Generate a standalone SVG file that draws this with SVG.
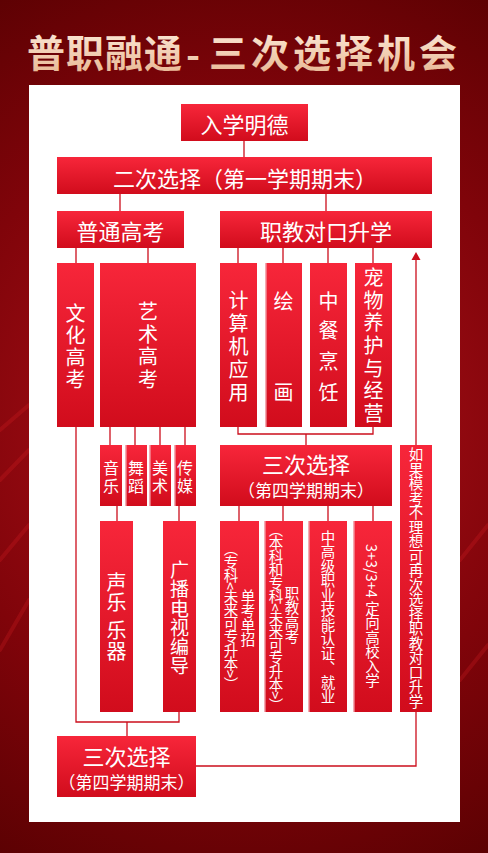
<svg xmlns="http://www.w3.org/2000/svg" width="488" height="853" viewBox="0 0 488 853">
<defs>
<radialGradient id="bg" cx="244" cy="420" r="560" gradientUnits="userSpaceOnUse">
<stop offset="0" stop-color="#b5131b"/>
<stop offset="0.55" stop-color="#80040a"/>
<stop offset="1" stop-color="#500000"/>
</radialGradient>
<linearGradient id="box" x1="0" y1="0" x2="0" y2="1">
<stop offset="0" stop-color="#f7263a"/>
<stop offset="1" stop-color="#d10c1c"/>
</linearGradient>
<linearGradient id="gold" x1="0" y1="0" x2="0" y2="1">
<stop offset="0" stop-color="#fff1e2"/>
<stop offset="1" stop-color="#e7b48f"/>
</linearGradient>
<style>
.b{fill:url(#box)}
.edge{stroke:#f5b3b9;stroke-width:1.5}
.t{font-family:"Noto Sans CJK SC","Noto Sans",sans-serif;fill:#fff;text-anchor:middle;dominant-baseline:central}
.s22{font-size:22px}
.s17{font-size:17px}
.col{font-family:"Noto Sans CJK SC","Noto Sans",sans-serif;fill:#fff;writing-mode:vertical-rl}
.c20{font-size:20px}
.c19{font-size:19px}
.c16{font-size:16px}
.vt{font-family:"Noto Sans CJK SC","Noto Sans",sans-serif;fill:#fff;text-anchor:middle;writing-mode:vertical-rl;font-size:14.5px}
.ln{fill:none;stroke:#cc0f1d;stroke-width:1.3}
.title{font-family:"Noto Sans CJK SC",sans-serif;fill:url(#gold);font-weight:bold;font-size:38px}
.streak{stroke:#e8262a;stroke-opacity:0.22;stroke-width:4;stroke-linecap:round}
</style>
</defs>
<rect x="0" y="0" width="488" height="853" fill="url(#bg)"/>
<g id="streaks">
<line class="streak" x1="0" y1="430" x2="29" y2="405"/>
<line class="streak" x1="0" y1="480" x2="29" y2="450"/>
<line class="streak" x1="0" y1="560" x2="29" y2="525"/>
<line class="streak" x1="0" y1="650" x2="29" y2="600"/>
<line class="streak" x1="460" y1="560" x2="488" y2="525"/>
<line class="streak" x1="460" y1="680" x2="488" y2="645"/>
</g>
<g id="title">
<text class="title" x="27" y="50" dominant-baseline="central" letter-spacing="1">普职融通</text>
<text class="title" x="186" y="69">-</text>
<text class="title" x="209" y="50" dominant-baseline="central" letter-spacing="4">三次选择机会</text>
</g>
<rect id="panel" x="29" y="85" width="431" height="737" fill="#fff"/>
<g id="connectors">
<path class="ln" d="M244,141V157"/>
<path class="ln" d="M120,194V211M326,194V211"/>
<path class="ln" d="M76,248V263M148,248V263"/>
<path class="ln" d="M238,248V263M283,248V263M328,248V263M373,248V263"/>
<path class="ln" d="M76,427V722H179V712M127,722V736"/>
<path class="ln" d="M110,427V445M135,427V445M160,427V445M185,427V445"/>
<path class="ln" d="M117,506V521M179,506V521"/>
<path class="ln" d="M238,427V434H373V427M306,434V445"/>
<path class="ln" d="M239,506V521M283,506V521M328,506V521M373,506V521"/>
<path class="ln" d="M196,766H416V712M416,445V258"/>
<polygon points="416,252 411.5,260 420.5,260" fill="#cc0f1d"/>
</g>
<g id="n-ruxue"><rect class="b" x="181" y="104" width="127" height="37"/><text class="t s22" x="244.5" y="123">入学明德</text></g>
<g id="n-erci"><rect class="b" x="57" y="157" width="375" height="37"/><text class="t s22" x="245" y="177">二次选择（第一学期期末）</text></g>
<g id="n-putong"><rect class="b" x="57" y="211" width="127" height="37"/><text class="t s22" x="120.5" y="230">普通高考</text></g>
<g id="n-zhijiao"><rect class="b" x="220" y="211" width="212" height="37"/><text class="t s22" x="326" y="230">职教对口升学</text></g>
<g id="n-wenhua"><rect class="b" x="57" y="263" width="37" height="164"/><text class="col c20" x="75.5"><tspan x="75.5" y="303">文</tspan><tspan x="75.5" y="325">化</tspan><tspan x="75.5" y="347">高</tspan><tspan x="75.5" y="369">考</tspan></text></g>
<g id="n-yishu"><rect class="b" x="100" y="263" width="96" height="164"/><text class="col c20" x="148"><tspan x="148" y="301">艺</tspan><tspan x="148" y="324">术</tspan><tspan x="148" y="346">高</tspan><tspan x="148" y="369">考</tspan></text></g>
<g id="n-jisuanji"><rect class="b" x="220" y="263" width="37" height="164"/><text class="col c20" x="238.5"><tspan x="238.5" y="290">计</tspan><tspan x="238.5" y="313">算</tspan><tspan x="238.5" y="336">机</tspan><tspan x="238.5" y="359">应</tspan><tspan x="238.5" y="382">用</tspan></text></g>
<g id="n-huihua"><rect class="b" x="265" y="263" width="37" height="164"/><line class="edge" x1="265.8" y1="263" x2="265.8" y2="427"/><text class="col c20" x="283.5"><tspan x="283.5" y="291">绘</tspan><tspan x="283.5" y="382">画</tspan></text></g>
<g id="n-zhongcan"><rect class="b" x="310" y="263" width="37" height="164"/><text class="col c20" x="328.5"><tspan x="328.5" y="291">中</tspan><tspan x="328.5" y="320">餐</tspan><tspan x="328.5" y="351">烹</tspan><tspan x="328.5" y="382">饪</tspan></text></g>
<g id="n-chongwu"><rect class="b" x="355" y="263" width="37" height="164"/><text class="col c20" x="373.5"><tspan x="373.5" y="267">宠</tspan><tspan x="373.5" y="290">物</tspan><tspan x="373.5" y="312">养</tspan><tspan x="373.5" y="335">护</tspan><tspan x="373.5" y="358">与</tspan><tspan x="373.5" y="380">经</tspan><tspan x="373.5" y="403">营</tspan></text></g>
<g id="n-yinyue"><rect class="b" x="100" y="445" width="22" height="61"/><text class="col c16" x="111"><tspan x="111" y="460">音</tspan><tspan x="111" y="478">乐</tspan></text></g>
<g id="n-wudao"><rect class="b" x="125" y="445" width="22" height="61"/><line class="edge" x1="125.8" y1="445" x2="125.8" y2="506"/><text class="col c16" x="136"><tspan x="136" y="460">舞</tspan><tspan x="136" y="478">蹈</tspan></text></g>
<g id="n-meishu"><rect class="b" x="149" y="445" width="22" height="61"/><line class="edge" x1="149.8" y1="445" x2="149.8" y2="506"/><text class="col c16" x="160"><tspan x="160" y="460">美</tspan><tspan x="160" y="478">术</tspan></text></g>
<g id="n-chuanmei"><rect class="b" x="174" y="445" width="22" height="61"/><line class="edge" x1="174.8" y1="445" x2="174.8" y2="506"/><text class="col c16" x="185"><tspan x="185" y="460">传</tspan><tspan x="185" y="478">媒</tspan></text></g>
<g id="n-shengyue"><rect class="b" x="100" y="521" width="33" height="191"/><text class="col c20" x="116.5"><tspan x="116.5" y="572">声</tspan><tspan x="116.5" y="592">乐</tspan><tspan x="116.5" y="620">乐</tspan><tspan x="116.5" y="641">器</tspan></text></g>
<g id="n-guangbo"><rect class="b" x="163" y="521" width="33" height="191"/><text class="col c19" x="179.5"><tspan x="179.5" y="560.5">广</tspan><tspan x="179.5" y="579.7">播</tspan><tspan x="179.5" y="598.9">电</tspan><tspan x="179.5" y="618.1">视</tspan><tspan x="179.5" y="637.3">编</tspan><tspan x="179.5" y="656.5">导</tspan></text></g>
<g id="n-sanci-a"><rect class="b" x="220" y="445" width="172" height="61"/><text class="t s22" x="306" y="463">三次选择</text><text class="t s17" x="306" y="489">（第四学期期末）</text></g>
<g id="n-dankao"><rect class="b" x="220" y="521" width="39" height="191"/><text class="vt" x="248" y="618">单考单招</text><text class="vt" x="231" y="616" letter-spacing="-1">（专科&lt;未来可专升本&gt;）</text></g>
<g id="n-zhijiaogk"><rect class="b" x="264" y="521" width="39" height="191"/><line class="edge" x1="264.8" y1="521" x2="264.8" y2="712"/><text class="vt" x="292" y="615">职教高考</text><text class="vt" x="276" y="617" letter-spacing="-1">（本科和专科&lt;未来可专升本&gt;）</text></g>
<g id="n-zhiye"><rect class="b" x="308" y="521" width="39" height="191"/><line class="edge" x1="308.8" y1="521" x2="308.8" y2="712"/><text class="vt" x="328" y="617">中高级职业技能认证、就业</text></g>
<g id="n-dingxiang"><rect class="b" x="353" y="521" width="39" height="191"/><line class="edge" x1="353.8" y1="521" x2="353.8" y2="712"/><text class="vt" x="372.5" y="616">3+3/3+4 定向高校入学</text></g>
<g id="n-ruguo"><rect class="b" x="400" y="445" width="32" height="267"/><text class="vt" x="416" y="578">如果模考不理想可再次选择职教对口升学</text></g>
<g id="n-sanci-b"><rect class="b" x="57" y="736" width="139" height="61"/><text class="t s22" x="126.5" y="755">三次选择</text><text class="t s17" x="126.5" y="781">（第四学期期末）</text></g>
</svg>
